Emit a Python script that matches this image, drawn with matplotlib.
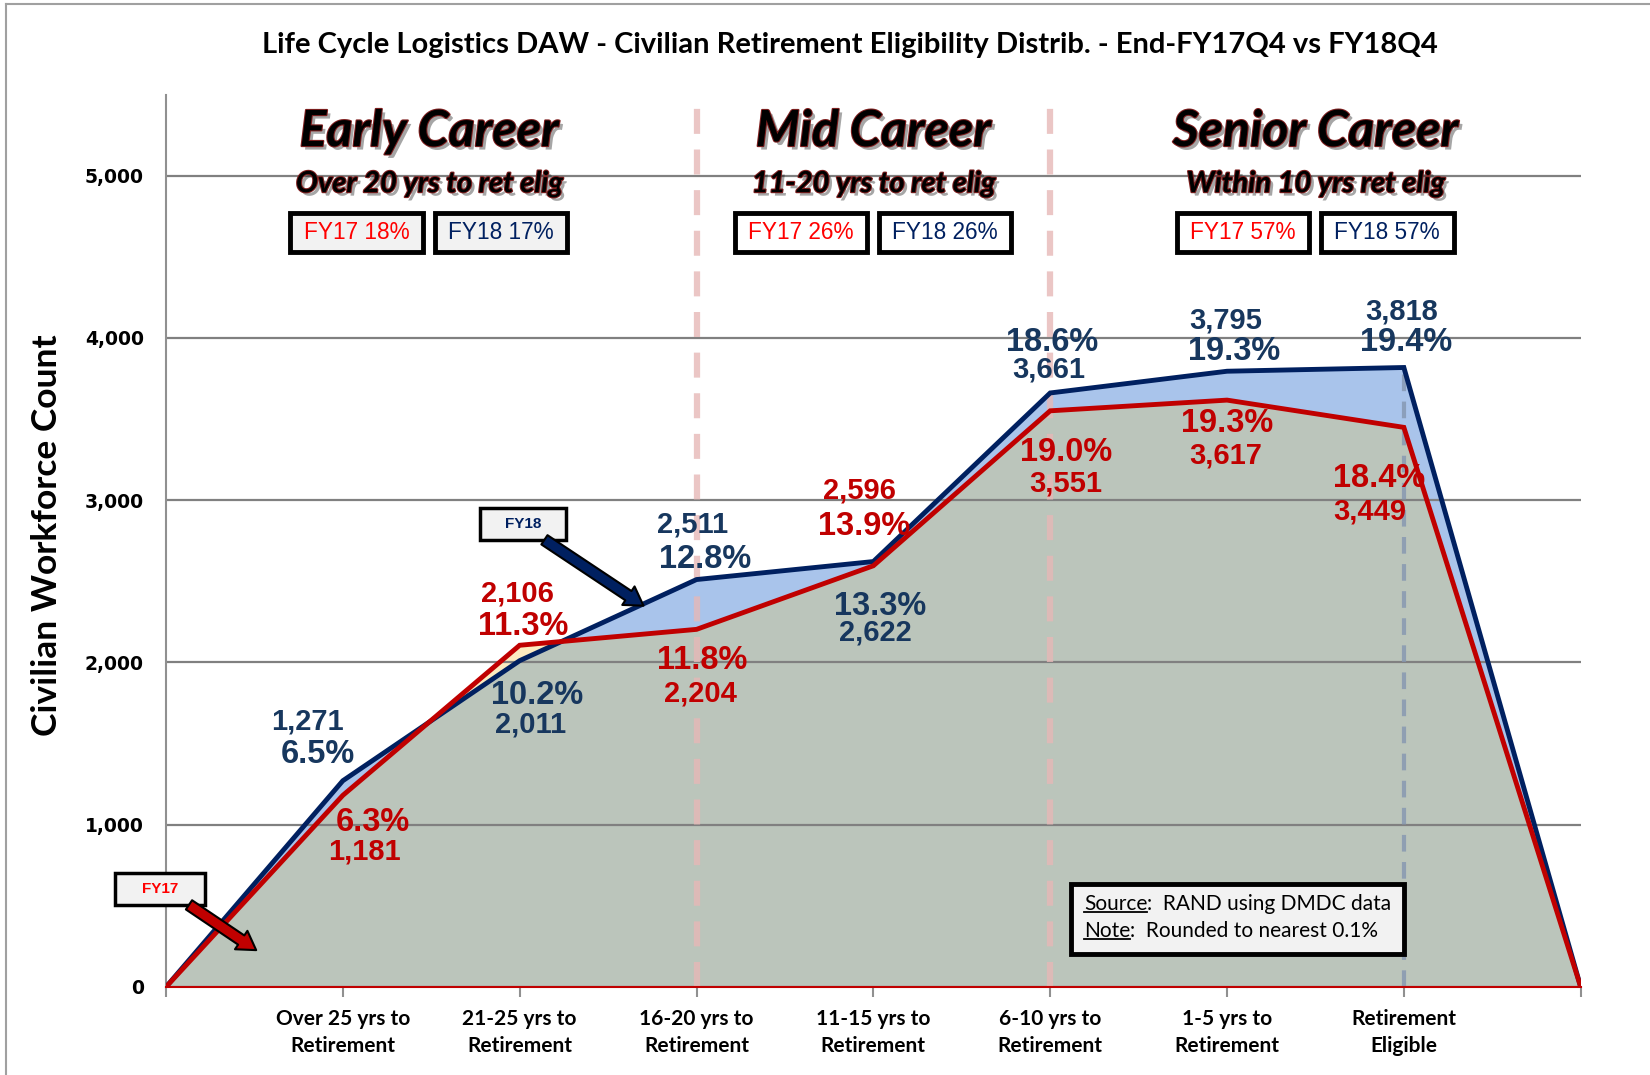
import matplotlib
matplotlib.use('Agg')
import matplotlib.pyplot as plt
import matplotlib.patheffects as pe
from matplotlib.patches import Rectangle
from matplotlib.lines import Line2D
import numpy as np

# data
categories = ['Over 25 yrs to\nRetirement', '21-25 yrs to\nRetirement', '16-20 yrs to\nRetirement',
              '11-15 yrs to\nRetirement', '6-10 yrs to\nRetirement', '1-5 yrs to\nRetirement',
              'Retirement\nEligible']
fy18_count = [1271, 2011, 2511, 2622, 3661, 3795, 3818]
fy18_pct = [6.5, 10.2, 12.8, 13.3, 18.6, 19.3, 19.4]
fy17_count = [1181, 2106, 2204, 2596, 3551, 3617, 3449]
fy17_pct = [6.3, 11.3, 11.8, 13.9, 19.0, 19.3, 18.4]

careers = ['Early Career', 'Mid Career', 'Senior Career']
career_sub = ['Over 20 yrs to ret elig', '11-20 yrs to ret elig', 'Within 10 yrs ret elig']
fy17_share = [18, 26, 57]
fy18_share = [17, 26, 57]

# label layout: (dx, dy) offsets for count and pct text from each point
fy18_cnt_off = [(-0.20, 363), (0.06, -396), (-0.02, 342), (0.01, -437), (-0.01, 146), (-0.01, 310), (-0.01, 345)]
fy18_pct_off = [(-0.14, 162), (0.10, -215), (0.05, 122), (0.04, -274), (0.01, 314), (0.04, 122), (0.01, 151)]
fy17_cnt_off = [(0.12, -344), (-0.01, 319), (0.02, -395), (-0.08, 465), (0.09, -451), (-0.01, -342), (-0.19, -518)]
fy17_pct_off = [(0.17, -169), (0.02, 118), (0.03, -194), (-0.05, 244), (0.09, -257), (0.0, -147), (-0.14, -317)]

NAVY = '#002060'
NAVY_TXT = '#17375E'
RED = '#C00000'
BLUE_FILL = '#A9C4EB'
GREEN_FILL = '#BBC5BB'
CREAM_FILL = '#FCEBC0'

x = np.arange(len(categories) + 2)
y18 = np.array([0] + fy18_count + [0])
y17 = np.array([0] + fy17_count + [0])

fig = plt.figure(figsize=(16.5, 10.75), dpi=100)
ax = fig.add_axes([0.1006, 0.0819, 0.8574, 0.8301])

# areas - resample the two polylines finely so the overlap region follows the crossings
xf = np.linspace(0, x[-1], 1601)
y18f = np.interp(xf, x, y18)
y17f = np.interp(xf, x, y17)
ax.fill_between(xf, 0, np.minimum(y17f, y18f), color=GREEN_FILL, lw=0, zorder=1)
ax.fill_between(xf, y17f, y18f, where=y18f >= y17f, color=BLUE_FILL, lw=0, zorder=1)
ax.fill_between(xf, y18f, y17f, where=y17f > y18f, color=CREAM_FILL, lw=0, zorder=1)

ax.plot(x, y18, color=NAVY, lw=3.5, zorder=3, solid_joinstyle='miter')
ax.plot(x, y17, color=RED, lw=3.5, zorder=4, solid_joinstyle='miter')

# section separators
for xv in [3, 5]:
    ax.axvline(xv, color='#E6B8B7', lw=4.5, ls=(0, (4, 2.5)), alpha=0.8, zorder=2.5)
ax.plot([7, 7], [0, fy18_count[-1]], color='#8496B0', lw=3, ls=(0, (4, 2.5)), alpha=0.8, zorder=2.5)

# axes styling
ax.set_xlim(0, 8)
ax.set_ylim(0, 5500)
ax.set_yticks(range(0, 5001, 1000))
ax.set_yticklabels(['0', '1,000', '2,000', '3,000', '4,000', '5,000'],
                   fontsize=13.5, fontweight='bold', family='DejaVu Sans')
ax.yaxis.grid(True, color='#808080', lw=1.6)
ax.tick_params(axis='y', length=0, pad=16)
ax.set_xticks(x)
ax.set_xticklabels([''] + categories + [''], fontsize=15, fontweight='bold', family='Lato', linespacing=1.45)
ax.tick_params(axis='x', length=7, color='#909090', width=1.5, pad=9)
for s in ['top', 'right']:
    ax.spines[s].set_visible(False)
ax.spines['left'].set_color('#909090')
ax.spines['left'].set_linewidth(1.5)
ax.spines['bottom'].set_color(RED)
ax.spines['bottom'].set_linewidth(1.5)

# value labels
for i in range(len(categories)):
    px, py = i + 1, fy18_count[i]
    ax.text(px + fy18_cnt_off[i][0], py + fy18_cnt_off[i][1], f'{fy18_count[i]:,}', color=NAVY_TXT,
            fontsize=21, fontweight='bold', family='Liberation Sans', ha='center', va='center', zorder=6)
    ax.text(px + fy18_pct_off[i][0], py + fy18_pct_off[i][1], f'{fy18_pct[i]:.1f}%', color=NAVY_TXT,
            fontsize=23.5, fontweight='bold', family='Liberation Sans', ha='center', va='center', zorder=6)
    py = fy17_count[i]
    ax.text(px + fy17_cnt_off[i][0], py + fy17_cnt_off[i][1], f'{fy17_count[i]:,}', color=RED,
            fontsize=21, fontweight='bold', family='Liberation Sans', ha='center', va='center', zorder=6)
    ax.text(px + fy17_pct_off[i][0], py + fy17_pct_off[i][1], f'{fy17_pct[i]:.1f}%', color=RED,
            fontsize=23.5, fontweight='bold', family='Liberation Sans', ha='center', va='center', zorder=6)

# career headers
shadow = [pe.SimplePatchShadow(offset=(2.5, -2.5), alpha=0.35), pe.Stroke(linewidth=1.5, foreground='#7F1F1F'), pe.Normal()]
career_x = [1.488, 4.0, 6.5]
box_fill = ['#F2F2F2', 'white', 'white']
for i, name in enumerate(careers):
    ax.text(career_x[i], 5272, name, fontsize=36, fontweight='bold', style='italic', family='Lato',
            ha='center', va='center', path_effects=shadow, zorder=7)
    ax.text(career_x[i], 4948, career_sub[i], fontsize=21, fontweight='bold', style='italic', family='Lato',
            ha='center', va='center', path_effects=shadow, zorder=7)
    for j, (lab, val, col) in enumerate([('FY17', fy17_share[i], '#FF0000'), ('FY18', fy18_share[i], NAVY)]):
        cx = career_x[i] - 0.41 + j * 0.816
        ax.add_patch(Rectangle((cx - 0.375, 4527), 0.75, 246, fc=box_fill[i], ec='black', lw=3.5, zorder=7))
        ax.text(cx, 4650, f'{lab} {val}%', color=col, fontsize=16.3, family='Liberation Sans',
                ha='center', va='center', zorder=8)

# callout arrows
ax.add_patch(Rectangle((1.774, 2756), 0.488, 195, fc='#F2F2F2', ec='black', lw=2.5, zorder=8))
ax.text(2.018, 2853, 'FY18', color=NAVY, fontsize=11, fontweight='bold', family='Liberation Sans',
        ha='center', va='center', zorder=9)
ax.annotate('', xy=(2.70, 2350), xytext=(2.14, 2756), zorder=8,
            arrowprops=dict(arrowstyle='simple,head_length=1.3,head_width=1.6,tail_width=0.8',
                            fc=NAVY, ec='black', lw=1.5, shrinkA=0, shrinkB=0))
ax.add_patch(Rectangle((-0.286, 506), 0.506, 194, fc='#F2F2F2', ec='black', lw=2.5, zorder=8, clip_on=False))
ax.text(-0.033, 603, 'FY17', color='#FF0000', fontsize=11, fontweight='bold', family='Liberation Sans',
        ha='center', va='center', zorder=9)
ax.annotate('', xy=(0.51, 227), xytext=(0.13, 506), zorder=8, annotation_clip=False,
            arrowprops=dict(arrowstyle='simple,head_length=1.3,head_width=1.6,tail_width=0.8',
                            fc=RED, ec='black', lw=1.5, shrinkA=0, shrinkB=0))

# source box
ax.add_patch(Rectangle((5.119, 201), 1.881, 435, fc='#F2F2F2', ec='black', lw=3.5, zorder=8))
src_words = [('Source', ':  RAND using DMDC data', 512), ('Note', ':  Rounded to nearest 0.1%', 344)]
fig.canvas.draw()
renderer = fig.canvas.get_renderer()
for word, rest, yv in src_words:
    t1 = ax.text(5.19, yv, word, fontsize=15, family='Lato', ha='left', va='center', zorder=9)
    bb = t1.get_window_extent(renderer)
    x_end = ax.transData.inverted().transform((bb.x1, bb.y0))[0]
    ax.text(x_end, yv, rest, fontsize=15, family='Lato', ha='left', va='center', zorder=9)
    ax.add_artist(Line2D([bb.x0, bb.x1], [bb.y0 + 2, bb.y0 + 2], transform=None, color='black', lw=1.3, zorder=9))

# titles
fig.text(0.515, 1 - 45 / 1075, 'Life Cycle Logistics DAW - Civilian Retirement Eligibility Distrib. - End-FY17Q4 vs FY18Q4',
         fontsize=21, fontweight='bold', family='Lato', ha='center', va='center')
fig.text(47 / 1650, 1 - 535 / 1075, 'Civilian Workforce Count', fontsize=25.5, fontweight='bold', family='Lato',
         rotation=90, ha='center', va='center')

# frame of the screenshot
fig.add_artist(Line2D([6 / 1650, 6 / 1650], [0, 1 - 4 / 1075], transform=fig.transFigure, color='#A0A0A0', lw=1.5))
fig.add_artist(Line2D([6 / 1650, 1], [1 - 4 / 1075, 1 - 4 / 1075], transform=fig.transFigure, color='#A0A0A0', lw=1.5))

fig.savefig('out.png', dpi=100)
